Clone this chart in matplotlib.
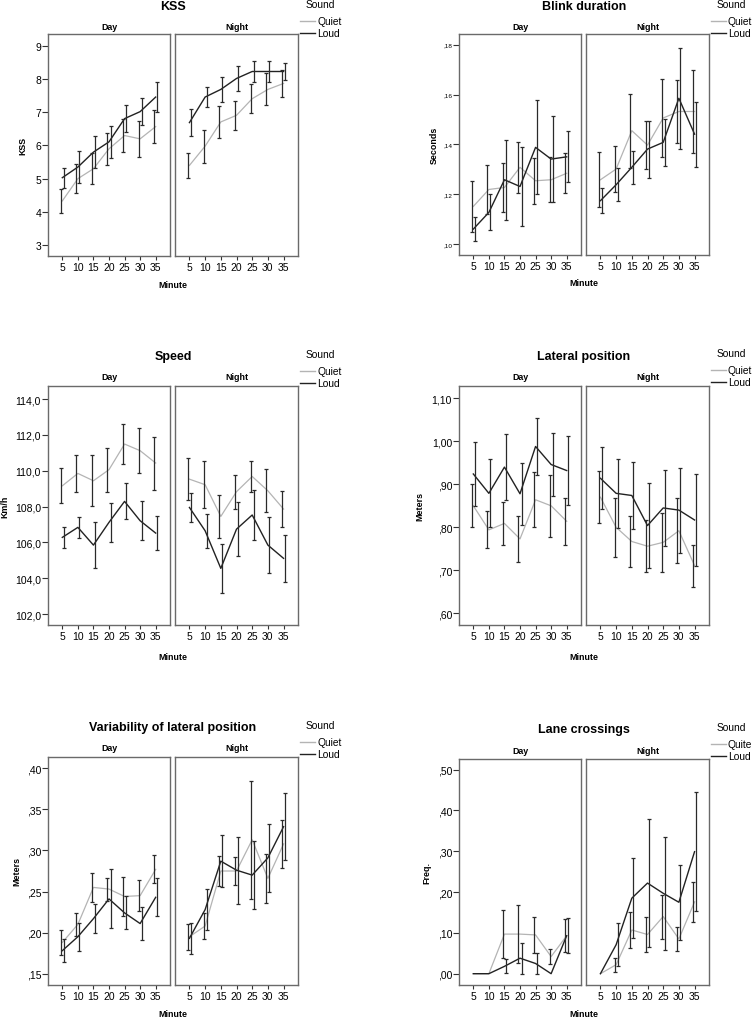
import matplotlib
matplotlib.use('Agg')
import matplotlib.pyplot as plt
from matplotlib.lines import Line2D
import numpy as np

plt.rcParams['font.family'] = ['Liberation Sans', 'DejaVu Sans']

W, H = 754, 1020

minutes = ['5', '10', '15', '20', '25', '30', '35']

# KSS
kss_day_quiet = [4.33, 5.00, 5.30, 5.90, 6.30, 6.20, 6.57]
kss_day_quiet_err = [0.37, 0.43, 0.47, 0.49, 0.51, 0.55, 0.50]
kss_day_loud = [5.03, 5.35, 5.80, 6.11, 6.81, 7.02, 7.46]
kss_day_loud_err = [0.30, 0.48, 0.48, 0.48, 0.40, 0.40, 0.44]
kss_night_quiet = [5.40, 5.98, 6.71, 6.91, 7.41, 7.69, 7.87]
kss_night_quiet_err = [0.38, 0.50, 0.47, 0.43, 0.44, 0.48, 0.42]
kss_night_loud = [6.69, 7.46, 7.69, 8.02, 8.23, 8.23, 8.23]
kss_night_loud_err = [0.41, 0.30, 0.38, 0.38, 0.33, 0.33, 0.27]

# Blink duration
blink_day_quiet = [0.1151, 0.1219, 0.1227, 0.1308, 0.1254, 0.1258, 0.1284]
blink_day_quiet_err = [0.0102, 0.0098, 0.0097, 0.0103, 0.0092, 0.0090, 0.0080]
blink_day_loud = [0.1060, 0.1127, 0.1258, 0.1231, 0.1388, 0.1341, 0.1350]
blink_day_loud_err = [0.0048, 0.0072, 0.0160, 0.0160, 0.0189, 0.0172, 0.0103]
blink_night_quiet = [0.1258, 0.1301, 0.1455, 0.1397, 0.1506, 0.1532, 0.1532]
blink_night_quiet_err = [0.0110, 0.0092, 0.0148, 0.0097, 0.0157, 0.0128, 0.0167]
blink_night_loud = [0.1174, 0.1238, 0.1308, 0.1381, 0.1408, 0.1585, 0.1441]
blink_night_loud_err = [0.0051, 0.0067, 0.0066, 0.0114, 0.0094, 0.0202, 0.0130]

# Speed
speed_day_quiet = [109.16, 109.85, 109.44, 110.06, 111.49, 111.12, 110.43]
speed_day_quiet_err = [0.97, 1.04, 1.43, 1.23, 1.10, 1.26, 1.48]
speed_day_loud = [106.28, 106.84, 105.85, 107.12, 108.29, 107.21, 106.52]
speed_day_loud_err = [0.58, 0.58, 1.27, 1.10, 1.00, 1.10, 0.97]
speed_night_quiet = [109.53, 109.22, 107.45, 108.83, 109.68, 108.88, 107.86]
speed_night_quiet_err = [1.18, 1.32, 1.21, 0.95, 0.84, 1.21, 1.00]
speed_night_loud = [107.95, 106.65, 104.55, 106.74, 107.53, 105.85, 105.11]
speed_night_loud_err = [0.82, 0.95, 1.38, 1.49, 1.42, 1.58, 1.30]

# Lateral position
lat_day_quiet = [0.850, 0.794, 0.809, 0.773, 0.864, 0.850, 0.814]
lat_day_quiet_err = [0.050, 0.043, 0.050, 0.053, 0.064, 0.072, 0.054]
lat_day_loud = [0.924, 0.879, 0.940, 0.878, 0.988, 0.946, 0.932]
lat_day_loud_err = [0.075, 0.079, 0.077, 0.072, 0.066, 0.073, 0.081]
lat_night_quiet = [0.870, 0.800, 0.767, 0.756, 0.765, 0.792, 0.711]
lat_night_quiet_err = [0.061, 0.068, 0.059, 0.061, 0.068, 0.075, 0.049]
lat_night_loud = [0.914, 0.879, 0.874, 0.804, 0.845, 0.840, 0.817]
lat_night_loud_err = [0.072, 0.080, 0.079, 0.099, 0.089, 0.099, 0.108]

# Variability of lateral position
var_day_quiet = [0.188, 0.210, 0.255, 0.253, 0.244, 0.245, 0.277]
var_day_quiet_err = [0.015, 0.014, 0.018, 0.014, 0.024, 0.019, 0.017]
var_day_loud = [0.178, 0.195, 0.217, 0.241, 0.224, 0.211, 0.243]
var_day_loud_err = [0.014, 0.017, 0.018, 0.036, 0.020, 0.020, 0.023]
var_night_quiet = [0.195, 0.208, 0.275, 0.275, 0.313, 0.266, 0.308]
var_night_quiet_err = [0.016, 0.016, 0.018, 0.017, 0.072, 0.030, 0.029]
var_night_loud = [0.193, 0.228, 0.287, 0.276, 0.270, 0.291, 0.329]
var_night_loud_err = [0.019, 0.025, 0.032, 0.041, 0.041, 0.041, 0.041]

# Lane crossings
lane_day_quiet = [0, 0, 0.097, 0.097, 0.095, 0.042, 0.093]
lane_day_quiet_err = [0, 0, 0.059, 0.072, 0.045, 0.018, 0.040]
lane_day_loud = [0, 0, 0.018, 0.038, 0.025, 0, 0.093]
lane_day_loud_err = [0, 0, 0.017, 0.038, 0.025, 0, 0.043]
lane_night_quiet = [0, 0.022, 0.107, 0.096, 0.140, 0.085, 0.176]
lane_night_quiet_err = [0, 0.017, 0.043, 0.043, 0.054, 0.030, 0.049]
lane_night_loud = [0, 0.071, 0.185, 0.222, 0.197, 0.175, 0.299]
lane_night_loud_err = [0, 0.053, 0.098, 0.157, 0.139, 0.092, 0.146]

QUIET_C = '#b4b4b4'
LOUD_C = '#222222'
ERR_C = '#2a2a2a'
FRAME_C = '#6a6a6a'


def fx(x):
    return x / W


def fy(y):
    return 1 - y / H


def spss_fmt(v, dec):
    s = f"{v:.{dec}f}".replace('.', ',')
    if s.startswith('0,'):
        s = s[1:]
    return s


def draw_series(ax, y, err, color, lw, shift):
    x = np.arange(len(y))
    ax.plot(x, y, color=color, lw=lw, zorder=3)
    y = np.array(y, dtype=float)
    err = np.array(err, dtype=float)
    m = err > 0
    ax.errorbar(x[m] + shift, y[m], yerr=err[m], fmt='none', ecolor=ERR_C,
                elinewidth=0.9, capsize=1.3, capthick=0.9, zorder=4)


def panel(fig, left, top, bottom, ylim, yticks, dec, tick_fs,
          title, title_y, facet_y, minute_y, ylabel, ylabel_x,
          day, night, legend_x, legend_y, quiet_label='Quiet'):
    boxes = [(left, left + 122), (left + 127, left + 250)]
    for (x0, x1), name, data in zip(boxes, ['Day', 'Night'], [day, night]):
        ax = fig.add_axes([fx(x0), fy(bottom), (x1 - x0) / W, (bottom - top) / H])
        q, qe, l, le = data
        draw_series(ax, q, qe, QUIET_C, 0.9, -0.1)
        draw_series(ax, l, le, LOUD_C, 1.0, 0.1)
        ax.set_xlim(-0.92, 6.92)
        ax.set_ylim(*ylim)
        ax.set_xticks(range(len(minutes)))
        ax.set_xticklabels(minutes, fontsize=7.5)
        ax.tick_params(axis='x', length=3, width=0.8, color='#333333', pad=1.5)
        for s in ax.spines.values():
            s.set_color(FRAME_C)
            s.set_linewidth(1.0)
        if name == 'Day':
            ax.set_yticks(yticks)
            ax.set_yticklabels([spss_fmt(v, dec) for v in yticks], fontsize=tick_fs)
            ax.tick_params(axis='y', length=4, width=0.8, color='#333333', pad=1)
        else:
            ax.set_yticks([])
        fig.text(fx((x0 + x1) / 2), fy(facet_y), name, ha='center', va='center',
                 fontsize=6.4, fontweight='bold')
    cx = (left + left + 250) / 2
    fig.text(fx(cx), fy(title_y), title, ha='center', va='center',
             fontsize=9, fontweight='bold')
    fig.text(fx(cx), fy(minute_y), 'Minute', ha='center', va='center',
             fontsize=6.4, fontweight='bold')
    fig.text(fx(ylabel_x), fy((top + bottom) / 2), ylabel, ha='center', va='center',
             rotation=90, fontsize=6.4, fontweight='bold')
    # legend drawn by hand, like the SPSS output
    fig.text(fx(legend_x + 6), fy(legend_y), 'Sound', ha='left', va='center', fontsize=7.4)
    for dy, lab, c in [(17, quiet_label, QUIET_C), (29, 'Loud', LOUD_C)]:
        fig.add_artist(Line2D([fx(legend_x), fx(legend_x + 15)],
                              [fy(legend_y + dy), fy(legend_y + dy)],
                              color=c, lw=1.0, transform=fig.transFigure))
        fig.text(fx(legend_x + 17), fy(legend_y + dy), lab, ha='left', va='center',
                 fontsize=7.4)


fig = plt.figure(figsize=(W / 100, H / 100), dpi=100)

panel(fig, 48, 35, 257, (2.67, 9.36), [3, 4, 5, 6, 7, 8, 9], 0, 7.5,
      'KSS', 7, 27, 285, 'KSS', 23,
      (kss_day_quiet, kss_day_quiet_err, kss_day_loud, kss_day_loud_err),
      (kss_night_quiet, kss_night_quiet_err, kss_night_loud, kss_night_loud_err),
      300, 5)

panel(fig, 459, 35, 256, (0.0956, 0.1843), [0.10, 0.12, 0.14, 0.16, 0.18], 2, 4.6,
      'Blink duration', 7, 27, 284, 'Seconds', 434,
      (blink_day_quiet, blink_day_quiet_err, blink_day_loud, blink_day_loud_err),
      (blink_night_quiet, blink_night_quiet_err, blink_night_loud, blink_night_loud_err),
      711, 5)

panel(fig, 48, 387, 626, (101.39, 114.73), [102, 104, 106, 108, 110, 112, 114], 1, 7.5,
      'Speed', 357, 378, 658, 'Km/h', 5,
      (speed_day_quiet, speed_day_quiet_err, speed_day_loud, speed_day_loud_err),
      (speed_night_quiet, speed_night_quiet_err, speed_night_loud, speed_night_loud_err),
      300, 355)

panel(fig, 459, 387, 626, (0.5728, 1.1286), [0.6, 0.7, 0.8, 0.9, 1.0, 1.1], 2, 7.5,
      'Lateral position', 357, 378, 658, 'Meters', 420,
      (lat_day_quiet, lat_day_quiet_err, lat_day_loud, lat_day_loud_err),
      (lat_night_quiet, lat_night_quiet_err, lat_night_loud, lat_night_loud_err),
      711, 354)

panel(fig, 48, 758, 986, (0.1362, 0.4138), [0.15, 0.20, 0.25, 0.30, 0.35, 0.40], 2, 7.5,
      'Variability of lateral position', 728, 749, 1015, 'Meters', 17,
      (var_day_quiet, var_day_quiet_err, var_day_loud, var_day_loud_err),
      (var_night_quiet, var_night_quiet_err, var_night_loud, var_night_loud_err),
      300, 726)

panel(fig, 459, 760, 986, (-0.0277, 0.526), [0.0, 0.1, 0.2, 0.3, 0.4, 0.5], 2, 7.5,
      'Lane crossings', 730, 751, 1015, 'Freq.', 427,
      (lane_day_quiet, lane_day_quiet_err, lane_day_loud, lane_day_loud_err),
      (lane_night_quiet, lane_night_quiet_err, lane_night_loud, lane_night_loud_err),
      711, 728, quiet_label='Quite')

fig.savefig('out.png', dpi=100)
